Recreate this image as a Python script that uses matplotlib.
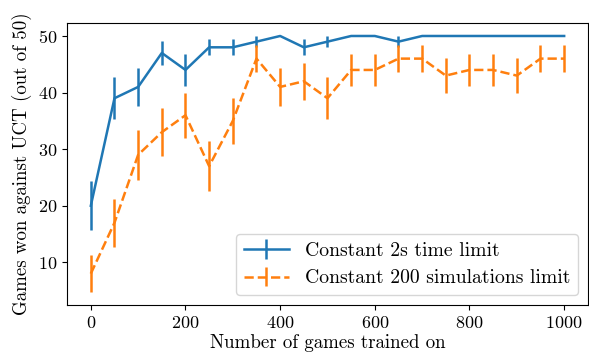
import matplotlib
matplotlib.use("Agg")
import matplotlib.pyplot as plt

# --- Data ---
games = [0, 50, 100, 150, 200, 250, 300, 350, 400, 450, 500,
         550, 600, 650, 700, 750, 800, 850, 900, 950, 1000]

time_wins = [20, 39, 41, 47, 44, 48, 48, 49, 50, 48, 49,
             50, 50, 49, 50, 50, 50, 50, 50, 50, 50]
time_err = [4.3, 3.7, 3.4, 2.1, 2.9, 1.4, 1.4, 1.0, 0.0, 1.4, 1.0,
            0.0, 0.0, 1.0, 0.0, 0.0, 0.0, 0.0, 0.0, 0.0, 0.0]

sims_wins = [8, 17, 29, 33, 36, 27, 35, 46, 41, 42, 39,
             44, 44, 46, 46, 43, 44, 44, 43, 46, 46]
sims_err = [3.3, 4.2, 4.4, 4.2, 4.0, 4.4, 4.1, 2.4, 3.4, 3.3, 3.7,
            2.9, 2.9, 2.4, 2.4, 3.1, 2.9, 2.9, 3.1, 2.4, 2.4]

# --- Plotting ---
plt.rcParams['font.family'] = 'serif'
plt.rcParams['font.serif'] = ['cmr10']
plt.rcParams['mathtext.fontset'] = 'cm'
plt.rcParams['axes.formatter.use_mathtext'] = True
plt.rcParams['font.size'] = 13

fig = plt.figure(figsize=(5.89, 3.62), dpi=100)
ax = fig.add_axes([0.114, 0.157, 0.884, 0.779])

ax.errorbar(games, time_wins, yerr=time_err, color='#1f77b4', linewidth=1.8,
            elinewidth=1.8, label="Constant 2s time limit")
ax.errorbar(games, sims_wins, yerr=sims_err, color='#ff7f0e', linewidth=1.8,
            elinewidth=1.8, linestyle='--', label="Constant 200 simulations limit")

ax.set_xlabel("Number of games trained on", fontsize=13.6, labelpad=2)
ax.set_ylabel("Games won against UCT (out of 50)", fontsize=13.6)
ax.set_xticks([0, 200, 400, 600, 800, 1000])
ax.set_yticks([10, 20, 30, 40, 50])
ax.legend(loc='lower right', fontsize=14.2, handlelength=2.3)

plt.savefig("out.png")
